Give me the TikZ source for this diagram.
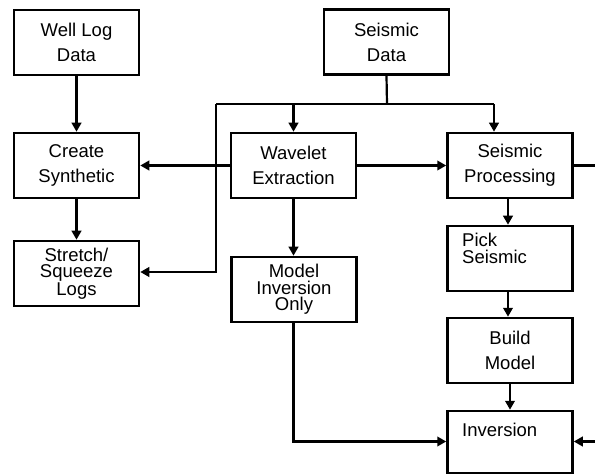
\documentclass[tikz,border=0pt]{standalone}
\usepackage{fontspec}
\setmainfont{Liberation Sans}
\usetikzlibrary{arrows.meta}
\begin{document}
\begin{tikzpicture}[x=1pt,y=-1pt,
  box/.style={draw=black,line width=2.5pt,inner sep=0pt,minimum width=125pt,minimum height=65pt,align=center,
    font=\fontsize{18.5}{25}\selectfont},
  tight/.style={font=\fontsize{18.5}{16.5}\selectfont},
  lbl/.style={inner sep=0pt,align=left,font=\fontsize{18.5}{16.5}\selectfont},
  conn/.style={line width=2.2pt,-{Triangle[length=9pt,width=9.5pt]}},
  wire/.style={line width=2.2pt}]
\useasboundingbox (0,0) rectangle (595,476);
\clip (0,0) rectangle (595,476);
\node[box] (wld) at (76.5,42.5) {Well Log\\Data};
\node[box] (cs)  at (76.5,165.5) {Create\\Synthetic};
\node[box,tight] (ssl) at (76.5,273.5) {Stretch/\\Squeeze\\Logs};
\node[box] (sd)  at (386.5,42) {Seismic\\Data};
\node[box] (we)  at (293.5,165.5) {Wavelet\\Extraction};
\node[box,tight] (mio) at (294,289.5) {Model\\Inversion\\Only};
\node[box] (sp)  at (510,165.5) {Seismic\\Processing};
\node[box] (ps)  at (510,258.5) {};
\node[lbl,anchor=north west] (pst) at (462,233) {Pick\\Seismic};
\node[box] (bm)  at (510,350.5) {Build\\Model};
\node[box,minimum height=62pt] (inv) at (510,442) {};
\node[lbl,anchor=base west] (invt) at (462,436) {Inversion};
\coordinate (j) at (387,104);
\coordinate (jl) at (216,104);
\coordinate (jr) at (494,104);
\coordinate (re) at (599,165.5);
\draw[conn] (wld) -- (cs);
\draw[conn] (cs) -- (ssl);
\draw[wire] (sd.south) -- (j);
\draw[wire] (jl) -- (jr);
\draw[conn] (we.north |- j) -- (we.north);
\draw[conn] (jr) -- (jr |- sp.north);
\draw[conn] (jl) |- (ssl.east |- 0,272);
\draw[conn] (we) -- (cs);
\draw[conn] (we) -- (sp);
\draw[conn] (we) -- (mio.north -| we);
\draw[conn] (mio.south -| we) |- (inv.west |- 0,441.5);
\draw[conn] (sp.south -| 508,0) -- (ps.north -| 508,0);
\draw[conn] (ps.south -| 508,0) -- (bm.north -| 508,0);
\draw[conn] (bm) -- (inv);
\draw[conn] (sp.east) -- (re) |- (inv.east |- 0,441.5);
\end{tikzpicture}
\end{document}
